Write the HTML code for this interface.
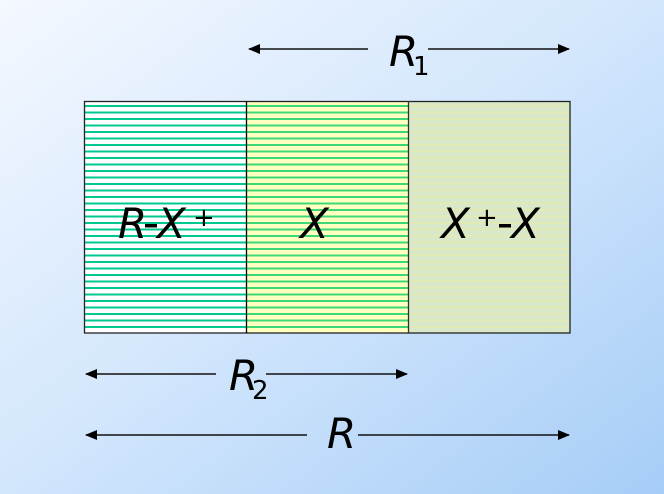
<!DOCTYPE html>
<html><head><style>html,body{margin:0;padding:0;}svg{display:block}</style></head>
<body>
<svg width="664" height="494" xmlns="http://www.w3.org/2000/svg" font-family="DejaVu Sans, Liberation Sans, sans-serif" font-style="italic">
<defs>
<linearGradient id="bg" x1="0" y1="0" x2="1" y2="1">
<stop offset="0" stop-color="#f4f8ff"/><stop offset="0.5" stop-color="#d2e6fc"/><stop offset="1" stop-color="#a6cdf7"/>
</linearGradient>
<pattern id="s1" width="10" height="6.5" patternUnits="userSpaceOnUse" y="101">
<rect width="10" height="6.5" fill="#ffffff"/><rect y="4" width="10" height="2" fill="#00c890"/>
</pattern>
<pattern id="s2" width="10" height="6.5" patternUnits="userSpaceOnUse" y="101">
<rect width="10" height="6.5" fill="#ffffc0"/><rect y="4" width="10" height="2" fill="#3cd878"/>
</pattern>
<pattern id="s3" width="10" height="6.5" patternUnits="userSpaceOnUse" y="101">
<rect width="10" height="6.5" fill="#d8e8c8"/><rect y="4" width="10" height="1.5" fill="#e4eab0"/>
</pattern>
<marker id="a" markerWidth="12" markerHeight="10" refX="11" refY="5" orient="auto" markerUnits="userSpaceOnUse">
<path d="M0,0 L12,5 L0,10 z" fill="#000"/></marker>
</defs>
<rect width="664" height="494" fill="url(#bg)"/>
<rect x="84" y="101" width="162" height="232" fill="url(#s1)"/>
<rect x="246" y="101" width="162" height="232" fill="url(#s2)"/>
<rect x="408" y="101" width="162" height="232" fill="url(#s3)"/>
<rect x="84.5" y="101.5" width="485.5" height="231.5" fill="none" stroke="#222" stroke-width="1.3"/>
<line x1="246.5" y1="101" x2="246.5" y2="333" stroke="#000" stroke-width="1.3"/>
<line x1="408.5" y1="101" x2="408.5" y2="333" stroke="#333" stroke-width="1.3"/>
<g font-size="42" fill="#000">
<text x="118" y="238">R</text>
<rect x="145" y="224" width="12" height="3.5"/>
<text x="157" y="238">X</text>
<text x="193" y="226" font-size="26" font-style="normal">+</text>
<text x="300" y="238">X</text>
<text x="441" y="238">X</text>
<text x="476" y="226" font-size="26" font-style="normal">+</text>
<rect x="499" y="224" width="12" height="3.5"/>
<text x="511" y="238">X</text>
</g>
<g stroke="#111" stroke-width="1.5">
<line x1="368" y1="49" x2="249" y2="49" marker-end="url(#a)"/>
<line x1="428" y1="49" x2="569" y2="49" marker-end="url(#a)"/>
<line x1="216" y1="374" x2="86" y2="374" marker-end="url(#a)"/>
<line x1="266" y1="374" x2="407" y2="374" marker-end="url(#a)"/>
<line x1="307" y1="435" x2="86" y2="435" marker-end="url(#a)"/>
<line x1="358" y1="435" x2="569" y2="435" marker-end="url(#a)"/>
</g>
<g font-size="42" fill="#000">
<text x="389" y="66">R</text><text x="413" y="75" font-size="26" font-style="normal">1</text>
<text x="229" y="390">R</text><text x="252" y="399" font-size="26" font-style="normal">2</text>
<text x="327" y="448">R</text>
</g>
</svg>
</body></html>
